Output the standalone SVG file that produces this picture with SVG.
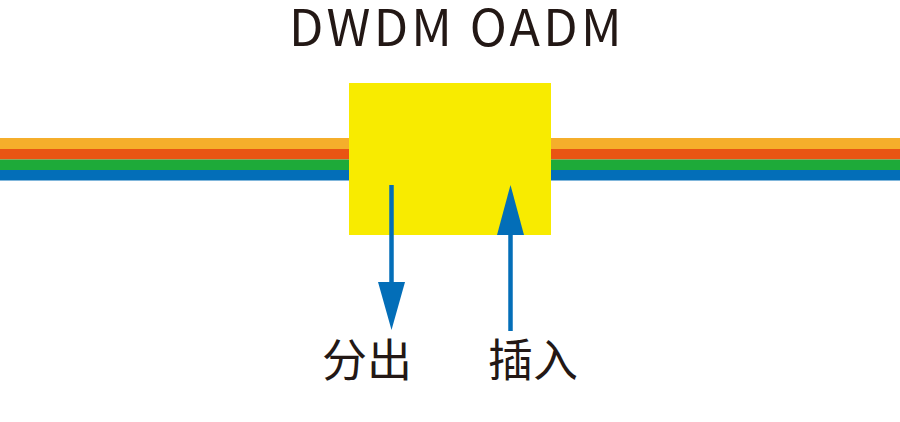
<svg xmlns="http://www.w3.org/2000/svg" width="900" height="422" viewBox="0 0 900 422">
<defs>
<style>
.t{font-family:"Noto Sans CJK SC","Noto Sans",sans-serif;fill:#231815;text-anchor:middle}
.a{stroke:#036EB8;stroke-width:4.5;fill:none}
.h{fill:#036EB8}
</style>
</defs>
<rect width="900" height="422" fill="#fff"/>
<g id="fibers">
<rect x="0" y="138" width="900" height="11" fill="#F5AE2B"/>
<rect x="0" y="149" width="900" height="10.5" fill="#E95513"/>
<rect x="0" y="159.5" width="900" height="10.5" fill="#1EAA39"/>
<rect x="0" y="170" width="900" height="10.5" fill="#036EB8"/>
</g>
<g id="oadm">
<rect x="349" y="83" width="202" height="152" fill="#F8EB00"/>
</g>
<g id="title"><text class="t" x="457" y="46" font-size="50" letter-spacing="3.3">DWDM OADM</text></g>
<g id="connectors">
<line class="a" x1="391.5" y1="185" x2="391.5" y2="284"/>
<polygon class="h" points="378,282 405,282 391.5,330"/>
<line class="a" x1="510.5" y1="230" x2="510.5" y2="331"/>
<polygon class="h" points="497,235 524,235 510.5,185"/>
</g>
<g id="drop"><text class="t" x="367" y="377" font-size="45">分出</text></g>
<g id="add"><text class="t" x="533" y="377" font-size="45">插入</text></g>
</svg>
